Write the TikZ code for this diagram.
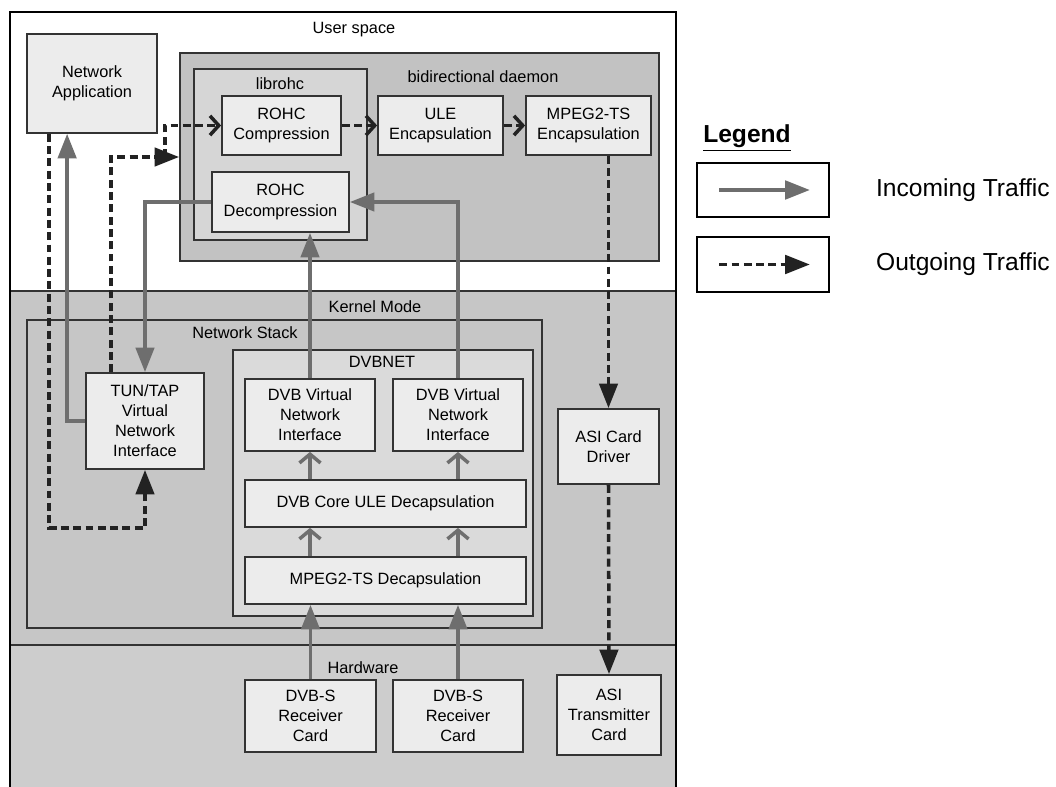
\documentclass[tikz,border=0pt]{standalone}
\usepackage{fontspec}
\setmainfont{Liberation Sans}
\usetikzlibrary{arrows.meta,fit,calc}

\definecolor{edgecol}{HTML}{333333}
\definecolor{kernelfill}{HTML}{C6C6C6}
\definecolor{hwfill}{HTML}{CDCDCD}
\definecolor{daemonfill}{HTML}{C2C2C2}
\definecolor{libfill}{HTML}{D6D6D6}
\definecolor{boxfill}{HTML}{ECECEC}
\definecolor{dvbnetfill}{HTML}{DADADA}
\definecolor{ingray}{HTML}{6E6E6E}
\definecolor{outdark}{HTML}{222222}

\newcommand{\boxfont}{\fontsize{9.3}{11.4}\selectfont}
\newcommand{\legfont}{\fontsize{14}{16}\selectfont}

\tikzset{
  box/.style={draw=edgecol, line width=1pt, fill=boxfill, inner sep=0pt,
    align=center, font=\boxfont},
  boxwh/.style 2 args={minimum width=#1*0.02cm, minimum height=#2*0.02cm},
  container/.style={draw=edgecol, line width=1pt, inner sep=0pt},
  lbl/.style={inner sep=1pt, font=\boxfont},
  inarrow/.style={draw=ingray, line width=2pt,
    -{Triangle[length=14pt,width=10.5pt]}},
  inchev/.style={draw=ingray, line width=2pt,
    -{Straight Barb[length=5pt,width=12pt,line width=2pt]}},
  outarrow/.style={draw=outdark, line width=2pt,
    dash pattern=on 4.5pt off 2.5pt,
    -{Triangle[length=14pt,width=10.5pt]}},
  outchev/.style={draw=outdark, line width=2pt,
    dash pattern=on 4.5pt off 2.5pt,
    -{Straight Barb[length=5pt,width=11pt,line width=2pt]}},
  legbox/.style={draw=black, line width=0.9pt, fill=white, inner sep=0pt},
}

\begin{document}
\begin{tikzpicture}[x=0.02cm, y=-0.02cm]
\useasboundingbox (0,0) rectangle (1056,787);

% --- layers: user space, kernel mode, hardware ---
\fill[white] (10,12) rectangle (676,291);
\fill[kernelfill] (10,291) rectangle (676,645);
\fill[hwfill] (10,645) rectangle (676,787);
\draw[edgecol, line width=1pt] (10,291) -- (676,291);
\draw[edgecol, line width=1pt] (10,645) -- (676,645);
\draw[black, line width=1.4pt] (10,787) -- (10,12) -- (676,12) -- (676,787);

\node[lbl] (userlbl) at (354,30) {User space};
\node[lbl] (kernlbl) at (375,307) {Kernel Mode};
\node[lbl] (hwlbl) at (363,668) {Hardware};

% --- user space ---
\node[box, boxwh={130}{99}] (netapp) at (92,83.5) {Network\\Application};
\node[container, fill=daemonfill, fit={(180,53) (659,261)}] (daemon) {};
\node[lbl] (daemonlbl) at (483,77) {bidirectional daemon};
\node[container, fill=libfill, fit={(194,69) (367,240)}] (librohc) {};
\node[lbl] (liblbl) at (280,84) {librohc};
\node[box, boxwh={119}{59}] (comp) at (281.5,125.5) {ROHC\\Compression};
\node[box, boxwh={137}{60}] (decomp) at (280.5,202) {ROHC\\Decompression};
\node[box, boxwh={125}{59}] (ule) at (440.5,125.5) {ULE\\Encapsulation};
\node[box, boxwh={125}{59}] (tsenc) at (588.5,125.5) {MPEG2-TS\\Encapsulation};

% --- kernel mode ---
\node[container, fill=kernelfill, fit={(27,320) (542,628)}] (netstack) {};
\node[lbl] (stacklbl) at (245,333) {Network Stack};
\node[container, fill=dvbnetfill, fit={(233,350) (533,616)}] (dvbnet) {};
\node[lbl] (dvbnetlbl) at (382,362) {DVBNET};
\node[box, boxwh={118}{96}] (tun) at (145,421) {TUN/TAP\\Virtual\\Network\\Interface};
\node[box, boxwh={130}{72}] (vni1) at (310,415) {DVB Virtual\\Network\\Interface};
\node[box, boxwh={130}{72}] (vni2) at (458,415) {DVB Virtual\\Network\\Interface};
\node[box, boxwh={281}{47}] (core) at (385.5,503.5) {DVB Core ULE Decapsulation};
\node[box, boxwh={281}{47}] (tsdec) at (385.5,580.5) {MPEG2-TS Decapsulation};
\node[box, boxwh={101}{75}] (asidrv) at (608.5,446.5) {ASI Card\\Driver};

% --- hardware ---
\node[box, boxwh={131}{72}] (rx1) at (310.5,716) {DVB-S\\Receiver\\Card};
\node[box, boxwh={130}{72}] (rx2) at (458,716) {DVB-S\\Receiver\\Card};
\node[box, boxwh={104}{80}] (asitx) at (609,715) {ASI\\Transmitter\\Card};

% --- incoming traffic ---
\draw[inarrow] (tun.west) -- ++(-18,0) coordinate (tunleft) -- (tunleft |- netapp.south);
\draw[inarrow] (decomp.west) -| (tun.north);
\draw[inarrow] (vni1.north) -- (vni1.north |- decomp.south);
\draw[inarrow] (vni2.north) |- (decomp.east);
\draw[inchev] (core.north -| vni1) -- (vni1.south);
\draw[inchev] (core.north -| vni2) -- (vni2.south);
\draw[inchev] (tsdec.north -| vni1) -- (core.south -| vni1);
\draw[inchev] (tsdec.north -| vni2) -- (core.south -| vni2);
\draw[inarrow] (rx1.north) -- (rx1.north |- tsdec.south);
\draw[inarrow] (rx2.north) -- (rx2.north |- tsdec.south);

% --- outgoing traffic ---
\draw[outarrow] ($(netapp.south west)+(23,0)$) |- ($(tun.south)+(0,58)$) -- (tun.south);
\draw[outarrow] ($(tun.north west)+(26,0)$) |- (daemon.west);
\draw[outchev] ($(daemon.west)+(-14,0)$) |- (comp.west);
\draw[outchev] (comp.east) -- (ule.west);
\draw[outchev] (ule.east) -- (tsenc.west);
\draw[outarrow] (tsenc.south -| asidrv) -- (asidrv.north);
\draw[outarrow] (asidrv.south) -- (asitx.north);

% --- legend ---
\node[font=\legfont\bfseries, inner sep=0pt] (legtitle) at (747,138) {\underline{Legend}};
\node[legbox, fit={(697,163) (829,217)}] (legin) {};
\node[legbox, fit={(697,237) (829,292)}] (legout) {};
\draw[inarrow] ($(legin.west)+(23,0)$) -- ($(legin.east)+(-20,0)$);
\draw[outarrow] ($(legout.west)+(23,0)$) -- ($(legout.east)+(-20,0)$);
\node[font=\legfont, anchor=west, inner sep=0pt] (legintxt) at ($(legin.east)+(46,0)$) {Incoming Traffic};
\node[font=\legfont, anchor=west, inner sep=0pt] (legouttxt) at ($(legout.east)+(46,0)$) {Outgoing Traffic};
\end{tikzpicture}
\end{document}
